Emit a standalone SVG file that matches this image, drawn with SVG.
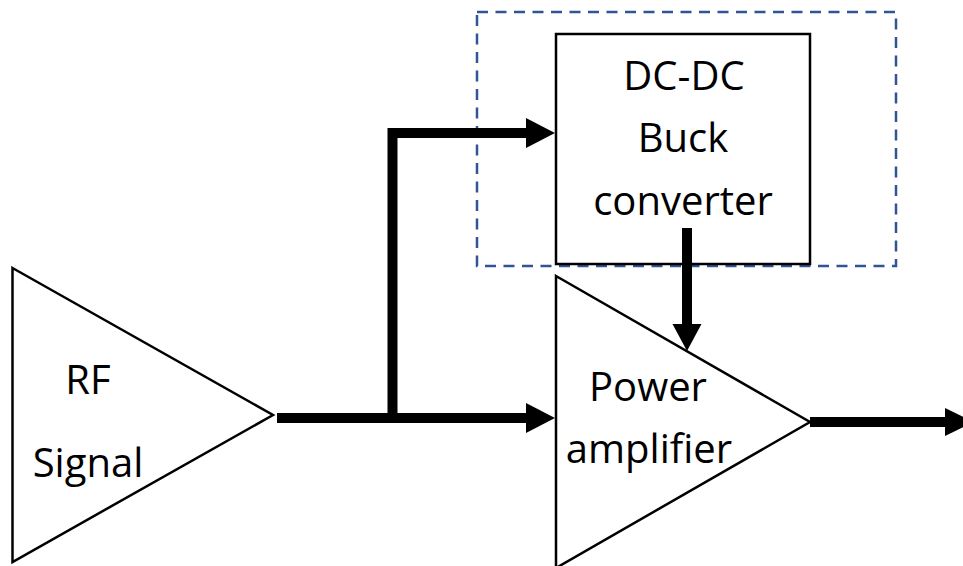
<svg xmlns="http://www.w3.org/2000/svg" width="963" height="566" viewBox="0 0 963 566">
<style>
  .shape { fill: #ffffff; stroke: #000000; stroke-width: 2.5; stroke-linejoin: miter; }
  .lbl { font-family: "Open Sans", "Liberation Sans", sans-serif; font-size: 40px; fill: #000000; text-anchor: middle; }
  .wire { fill: none; stroke: #000000; stroke-width: 10; stroke-linejoin: miter; stroke-linecap: butt; }
  .head { fill: #000000; stroke: none; }
  .dash { fill: none; stroke: #2F5597; stroke-width: 2.5; stroke-dasharray: 11 7.5; }
</style>
<rect width="963" height="566" fill="#ffffff"/>

<g id="dashed-region">
  <rect class="dash" x="477" y="12" width="419" height="254"/>
</g>

<g id="rf-signal">
  <polygon class="shape" points="12.5,268 273,415 12.5,562"/>
  <text class="lbl" x="88" y="394">RF</text>
  <text class="lbl" x="88" y="477">Signal</text>
</g>

<g id="dcdc-buck">
  <rect class="shape" x="556" y="34" width="254" height="230"/>
  <text class="lbl" x="684" y="90">DC-DC</text>
  <text class="lbl" x="683" y="152">Buck</text>
  <text class="lbl" x="683" y="215">converter</text>
</g>

<g id="power-amplifier">
  <polygon class="shape" points="556,276 810,422 556,568"/>
  <text class="lbl" x="648" y="401">Power</text>
  <text class="lbl" x="649" y="463">amplifier</text>
</g>

<g id="connectors">
  <path class="wire" d="M277,418 H530"/>
  <polygon class="head" points="526,403 555,418 526,433"/>
  <path class="wire" d="M392.5,418 V133 H530"/>
  <polygon class="head" points="526,118 555,133 526,148"/>
  <path class="wire" d="M687,228 V328"/>
  <polygon class="head" points="672.5,324 687,351 701.5,324"/>
  <path class="wire" d="M810,422 H950"/>
  <polygon class="head" points="945,408 974,422 945,436"/>
</g>
</svg>
